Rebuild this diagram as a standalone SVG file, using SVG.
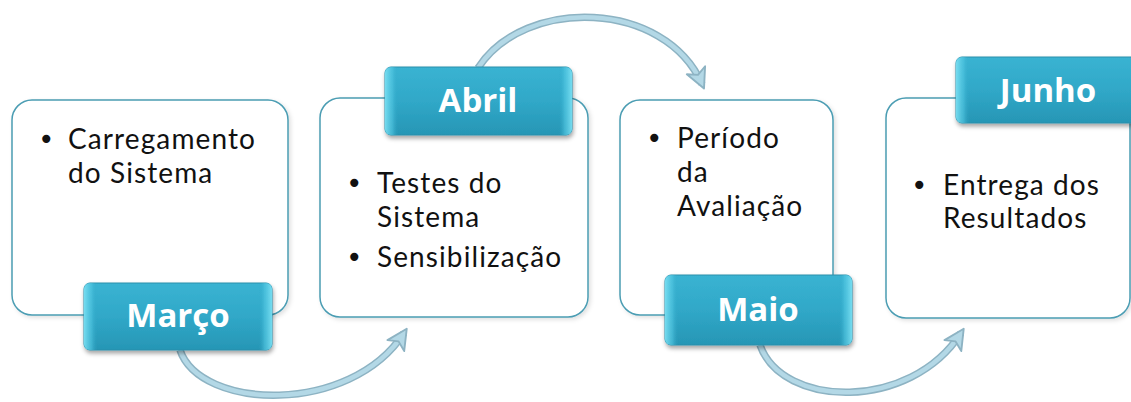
<svg xmlns="http://www.w3.org/2000/svg" width="1131" height="402" viewBox="0 0 1131 402">
<style>
.box{fill:#ffffff;stroke:#4b9db3;stroke-width:1.5}
.lbl{fill:url(#lblGrad);stroke:#2b8fab;stroke-width:1}
.lbl-hi{fill:url(#lblEdge)}
.lt{font-family:"Open Sans","Noto Sans",sans-serif;font-weight:bold;font-size:33px;fill:#ffffff;text-anchor:middle}
.bt{font-family:Lato,"Open Sans",sans-serif;font-size:28px;letter-spacing:1.1px;fill:#111111}
.bul{font-family:"DejaVu Sans",sans-serif;font-size:28px;letter-spacing:0}
.arr-o{fill:none;stroke:#8db3c3;stroke-width:7.5;stroke-linecap:butt}
.arr-i{fill:none;stroke:#b3d8e6;stroke-width:4.5;stroke-linecap:butt}
</style>
<defs>
<linearGradient id="lblGrad" x1="0" y1="0" x2="0" y2="1">
<stop offset="0" stop-color="#3ab3d2"/>
<stop offset="0.5" stop-color="#30a8c8"/>
<stop offset="1" stop-color="#2796b5"/>
</linearGradient>
<linearGradient id="lblEdge" x1="0" y1="0" x2="1" y2="0">
<stop offset="0" stop-color="#7fe3f5" stop-opacity="0.9"/>
<stop offset="0.04" stop-color="#52c7e2" stop-opacity="0.6"/>
<stop offset="0.07" stop-color="#30a8c8" stop-opacity="0"/>
<stop offset="0.93" stop-color="#30a8c8" stop-opacity="0"/>
<stop offset="0.96" stop-color="#52c7e2" stop-opacity="0.6"/>
<stop offset="1" stop-color="#7fe3f5" stop-opacity="0.9"/>
</linearGradient>
<filter id="shadow" x="-10%" y="-10%" width="120%" height="130%">
<feDropShadow dx="1" dy="3" stdDeviation="2" flood-color="#000000" flood-opacity="0.35"/>
</filter>
<filter id="bshadow" x="-5%" y="-5%" width="110%" height="110%">
<feDropShadow dx="2" dy="2" stdDeviation="2" flood-color="#000000" flood-opacity="0.12"/>
</filter>
<marker id="ah" markerUnits="userSpaceOnUse" markerWidth="30" markerHeight="30" refX="0" refY="0" viewBox="-16 -12 22 24" orient="auto" overflow="visible">
<path d="M-12,-8 L4,0 L-12,8 L-8,0 Z" fill="#b3d8e6" stroke="#8db3c3" stroke-width="1.5" stroke-linejoin="round"/>
</marker>
</defs>

<g id="connectors">
<path class="arr-o" d="M180,350 C200,410 350,416 404,333"/>
<path class="arr-i" d="M180,350 C200,410 350,416 404,333" marker-end="url(#ah)"/>
<path class="arr-o" d="M478,68 C525,-4 665,0 702,84"/>
<path class="arr-i" d="M478,68 C525,-4 665,0 702,84" marker-end="url(#ah)"/>
<path class="arr-o" d="M760,345 C782,408 910,412 961,333"/>
<path class="arr-i" d="M760,345 C782,408 910,412 961,333" marker-end="url(#ah)"/>
</g>

<g id="node-marco">
<rect class="box" x="12" y="100" width="276" height="215" rx="20" filter="url(#bshadow)"/>
<text class="bt" y="149"><tspan class="bul" x="38">•</tspan><tspan x="68">Carregamento</tspan><tspan x="68" y="183">do Sistema</tspan></text>
<g filter="url(#shadow)">
<rect class="lbl" x="84" y="283" width="188" height="67" rx="6"/>
<rect class="lbl-hi" x="84" y="283" width="188" height="67" rx="6"/>
</g>
<text class="lt" x="178" y="327">Março</text>
</g>

<g id="node-abril">
<rect class="box" x="320" y="98" width="268" height="219" rx="20" filter="url(#bshadow)"/>
<text class="bt" y="193"><tspan class="bul" x="346">•</tspan><tspan x="377">Testes do</tspan><tspan x="377" y="227">Sistema</tspan><tspan class="bul" x="346" y="267">•</tspan><tspan x="377" y="267">Sensibilização</tspan></text>
<g filter="url(#shadow)">
<rect class="lbl" x="385" y="67" width="187" height="68" rx="6"/>
<rect class="lbl-hi" x="385" y="67" width="187" height="68" rx="6"/>
</g>
<text class="lt" x="478" y="112">Abril</text>
</g>

<g id="node-maio">
<rect class="box" x="620" y="100" width="213" height="215" rx="20" filter="url(#bshadow)"/>
<text class="bt" y="148"><tspan class="bul" x="646">•</tspan><tspan x="677">Período</tspan><tspan x="677" y="182">da</tspan><tspan x="677" y="216">Avaliação</tspan></text>
<g filter="url(#shadow)">
<rect class="lbl" x="665" y="275" width="187" height="70" rx="6"/>
<rect class="lbl-hi" x="665" y="275" width="187" height="70" rx="6"/>
</g>
<text class="lt" x="758" y="321">Maio</text>
</g>

<g id="node-junho">
<rect class="box" x="886" y="98" width="244" height="220" rx="20" filter="url(#bshadow)"/>
<text class="bt" y="195"><tspan class="bul" x="911">•</tspan><tspan x="943">Entrega dos</tspan><tspan x="943" y="228">Resultados</tspan></text>
<g filter="url(#shadow)">
<rect class="lbl" x="956" y="57" width="190" height="66" rx="6"/>
<rect class="lbl-hi" x="956" y="57" width="190" height="66" rx="6"/>
</g>
<text class="lt" x="1048" y="102">Junho</text>
</g>
</svg>
